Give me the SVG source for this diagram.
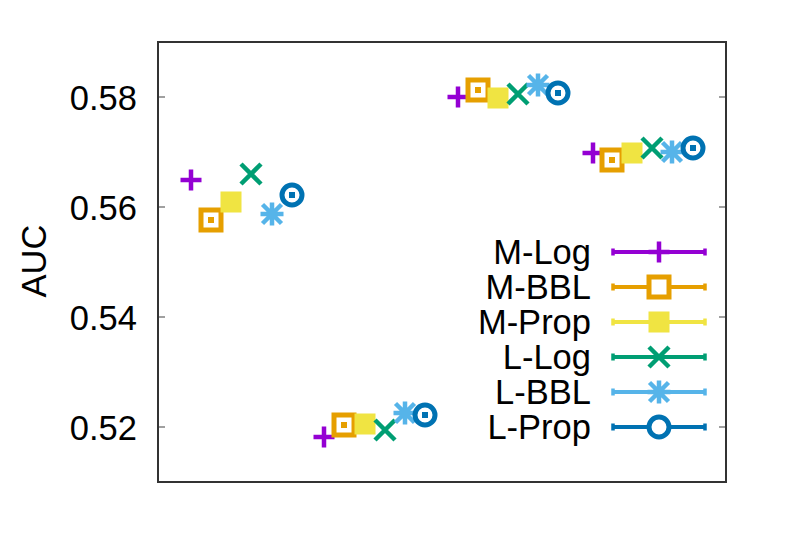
<svg xmlns="http://www.w3.org/2000/svg" xmlns:xlink="http://www.w3.org/1999/xlink" width="789" height="552" viewBox="0 0 789 552">
<style>
text{font-family:"Liberation Sans",Arial,sans-serif;font-size:34.5px;fill:#000}
.tl{text-anchor:end}
.tick{stroke:#a0a0a0;stroke-width:2}
.frame{fill:none;stroke:#333;stroke-width:2}
.ln{stroke-width:4;fill:none}
.cap{stroke-width:3.5}
</style>
<defs>
<path id="plus" d="M-10.5,0H10.5M0,-10.5V10.5" stroke-width="4.5" fill="none"/>
<path id="cross" d="M-10,-10L10,10M-10,10L10,-10" stroke-width="4.5" fill="none"/>
<path id="star" d="M-11.5,0H11.5M0,-11.5V11.5M-9.5,-9.5L9.5,9.5M-9.5,9.5L9.5,-9.5" stroke-width="4.5" fill="none"/>
<rect id="box" x="-10" y="-10" width="20" height="20" stroke-width="5" fill="none"/>
<rect id="fbox" x="-10.5" y="-10.5" width="21" height="21" stroke="none"/>
<circle id="circ" r="10" stroke-width="5" fill="none"/>
<rect id="dot" x="-3" y="-3" width="6" height="6" stroke="none"/>
</defs>
<rect width="789" height="552" fill="#fff"/>
<g id="axes">
<path class="tick" d="M158,97h7M726,97h-7M158,207h7M726,207h-7M158,317h7M726,317h-7M158,427h7M726,427h-7"/>
<rect class="frame" x="158" y="42" width="568" height="440"/>
<text class="tl" x="137" y="109.5">0.58</text>
<text class="tl" x="137" y="219.5">0.56</text>
<text class="tl" x="137" y="329.5">0.54</text>
<text class="tl" x="137" y="439.5">0.52</text>
<text x="46" y="261" text-anchor="middle" transform="rotate(-90 46 261)">AUC</text>
</g>
<g id="M-Log" stroke="#9400d3" fill="#9400d3">
<use xlink:href="#plus" x="191" y="180"/>
<use xlink:href="#plus" x="324" y="437"/>
<use xlink:href="#plus" x="458" y="97"/>
<use xlink:href="#plus" x="593" y="153"/>
</g>
<g id="M-BBL" stroke="#e69f00" fill="#e69f00">
<use xlink:href="#box" x="211" y="220"/><use xlink:href="#dot" x="211" y="220"/>
<use xlink:href="#box" x="344" y="425"/><use xlink:href="#dot" x="344" y="425"/>
<use xlink:href="#box" x="478" y="90"/><use xlink:href="#dot" x="478" y="90"/>
<use xlink:href="#box" x="612" y="160"/><use xlink:href="#dot" x="612" y="160"/>
</g>
<g id="M-Prop" stroke="#f0e442" fill="#f0e442">
<use xlink:href="#fbox" x="231" y="202"/>
<use xlink:href="#fbox" x="365" y="424"/>
<use xlink:href="#fbox" x="498" y="98"/>
<use xlink:href="#fbox" x="632" y="153"/>
</g>
<g id="L-Log" stroke="#009e73" fill="#009e73">
<use xlink:href="#cross" x="251" y="174"/>
<use xlink:href="#cross" x="385" y="430"/>
<use xlink:href="#cross" x="518" y="94"/>
<use xlink:href="#cross" x="652" y="148"/>
</g>
<g id="L-BBL" stroke="#56b4e9" fill="#56b4e9">
<use xlink:href="#star" x="272" y="214"/>
<use xlink:href="#star" x="405" y="413"/>
<use xlink:href="#star" x="538" y="85"/>
<use xlink:href="#star" x="672" y="152"/>
</g>
<g id="L-Prop" stroke="#0072b2" fill="#0072b2">
<use xlink:href="#circ" x="292" y="195"/><use xlink:href="#dot" x="292" y="195"/>
<use xlink:href="#circ" x="425" y="415"/><use xlink:href="#dot" x="425" y="415"/>
<use xlink:href="#circ" x="558" y="93"/><use xlink:href="#dot" x="558" y="93"/>
<use xlink:href="#circ" x="693" y="148"/><use xlink:href="#dot" x="693" y="148"/>
</g>
<g id="legend">
<g id="leg-M-Log" stroke="#9400d3" fill="#9400d3">
<text class="tl" x="591" y="263.5" stroke="none">M-Log</text>
<path class="ln" d="M612,252H706"/><path class="cap" d="M613,248.5v7M705,248.5v7"/>
<use xlink:href="#plus" x="659" y="252"/>
</g>
<g id="leg-M-BBL" stroke="#e69f00" fill="#e69f00">
<text class="tl" x="591" y="298.5" stroke="none">M-BBL</text>
<path class="ln" d="M612,287H706"/><path class="cap" d="M613,283.5v7M705,283.5v7"/>
<rect x="649" y="277" width="20" height="20" stroke-width="5" fill="#fff"/>
</g>
<g id="leg-M-Prop" stroke="#f0e442" fill="#f0e442">
<text class="tl" x="591" y="333.5" stroke="none">M-Prop</text>
<path class="ln" d="M612,322H706"/><path class="cap" d="M613,318.5v7M705,318.5v7"/>
<use xlink:href="#fbox" x="659" y="322"/>
</g>
<g id="leg-L-Log" stroke="#009e73" fill="#009e73">
<text class="tl" x="591" y="368.5" stroke="none">L-Log</text>
<path class="ln" d="M612,357H706"/><path class="cap" d="M613,353.5v7M705,353.5v7"/>
<use xlink:href="#cross" x="659" y="357"/>
</g>
<g id="leg-L-BBL" stroke="#56b4e9" fill="#56b4e9">
<text class="tl" x="591" y="403.5" stroke="none">L-BBL</text>
<path class="ln" d="M612,392H706"/><path class="cap" d="M613,388.5v7M705,388.5v7"/>
<use xlink:href="#star" x="659" y="392"/>
</g>
<g id="leg-L-Prop" stroke="#0072b2" fill="#0072b2">
<text class="tl" x="591" y="438.5" stroke="none">L-Prop</text>
<path class="ln" d="M612,427H706"/><path class="cap" d="M613,423.5v7M705,423.5v7"/>
<circle cx="659" cy="427" r="10" stroke-width="5" fill="#fff"/>
</g>
</g>
<g id="connectors"/>
</svg>
